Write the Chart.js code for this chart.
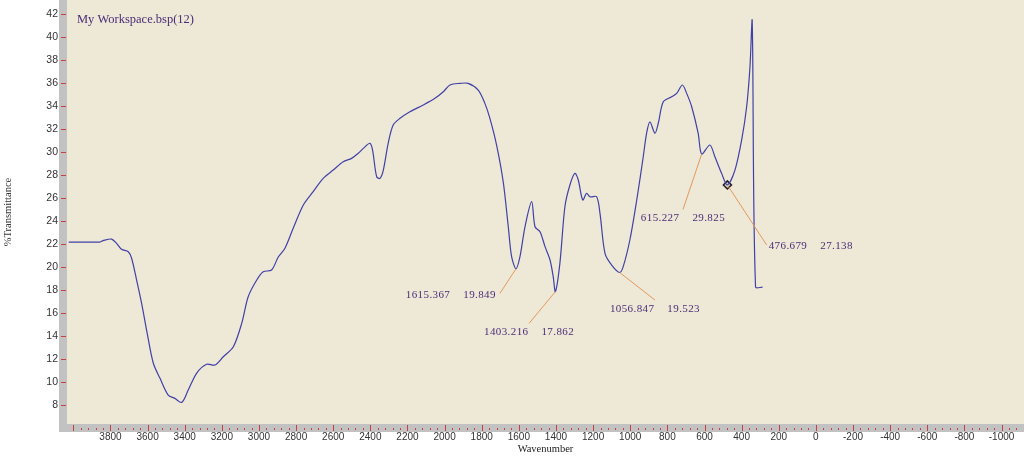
<!DOCTYPE html>
<html lang="en">
<head>
<meta charset="UTF-8">
<title>My Workspace.bsp(12)</title>
<script src="https://cdn.jsdelivr.net/npm/chart.js"></script>
<style>
  html, body { margin: 0; padding: 0; background: #fff; }
  #wrap { width: 1024px; height: 456px; }
</style>
</head>
<body>
<div id="wrap"><canvas id="irChart" width="1024" height="456"></canvas></div>
<script>
// spectrum: wavenumber (cm-1) and %T
const wavenumbers = [
  4025, 3857, 3840, 3794, 3767, 3740, 3704, 3686, 3659, 3632, 3602, 3569, 3533, 3489, 3453, 3416,
  3381, 3336, 3282, 3237, 3192, 3138, 3093, 3058, 3012, 2977, 2932, 2896, 2860, 2815, 2761, 2708,
  2654, 2600, 2546, 2501, 2465, 2438, 2402, 2388, 2366, 2348, 2330, 2304, 2277, 2240, 2187, 2115,
  2052, 2007, 1971, 1917, 1873, 1819, 1783, 1756, 1720, 1684, 1657, 1639, 1615.367, 1594, 1567, 1531,
  1513, 1486, 1459, 1432, 1415, 1403.216, 1379, 1352, 1325, 1298, 1280, 1256, 1235, 1217, 1181, 1163,
  1136, 1100, 1056.847, 1038, 1002, 965, 930, 912, 894, 867, 849, 822, 777, 750, 719, 696,
  669, 634, 615.227, 571, 544, 508, 476.679, 436, 400, 373, 355, 343, 325, 287
];
const transmittance = [
  22.17, 22.17, 22.29, 22.43, 22.06, 21.54, 21.33, 20.76, 18.87, 16.84, 14.23, 11.63, 10.32, 8.87, 8.58, 8.23,
  9.30, 10.76, 11.54, 11.48, 12.20, 13.07, 15.10, 17.42, 18.87, 19.59, 19.74, 20.87, 21.63, 23.39, 25.39, 26.55,
  27.71, 28.43, 29.16, 29.45, 29.89, 30.32, 30.76, 30.17, 27.85, 27.71, 28.43, 30.76, 32.35, 32.93, 33.50, 34.09,
  34.67, 35.24, 35.83, 35.97, 35.97, 35.39, 34.23, 32.93, 30.61, 27.39, 23.50, 20.90, 19.849, 20.90, 23.50, 25.68,
  23.50, 23.07, 21.77, 20.61, 19.16, 17.862, 20.32, 25.24, 27.13, 28.15, 27.57, 25.83, 26.41, 26.11, 26.11, 24.67,
  21.19, 20.17, 19.523, 20.03, 22.35, 25.83, 29.59, 31.63, 32.63, 31.63, 32.50, 34.37, 34.81, 35.10, 35.83, 35.10,
  33.94, 31.63, 29.825, 30.61, 29.59, 28.15, 27.138, 28.43, 31.04, 33.94, 37.42, 41.39, 18.26, 18.26
];

// axis labels
const xTicks = [3800, 3600, 3400, 3200, 3000, 2800, 2600, 2400, 2200, 2000, 1800, 1600, 1400, 1200,
  1000, 800, 600, 400, 200, 0, -200, -400, -600, -800, -1000];
const yTicks = [8, 10, 12, 14, 16, 18, 20, 22, 24, 26, 28, 30, 32, 34, 36, 38, 40, 42];

// labelled peaks and where their leader lines end
const peakWavenumbers = [1615.367, 1403.216, 1056.847, 615.227, 476.679];
const peakValues = [19.849, 17.862, 19.523, 29.825, 27.138];
const labelWavenumbers = [1702, 1545, 867, 716, 265];
const labelValues = [17.71, 15.10, 17.13, 25.0, 21.91];
const labelAlign = ['right', 'center', 'center', 'center', 'left'];

// cursor marker
const markerWavenumbers = [476.679];
const markerValues = [27.138];

const spectrum = wavenumbers.map((w, i) => ({ x: w, y: transmittance[i] }));
const marker = markerWavenumbers.map((w, i) => ({ x: w, y: markerValues[i] }));

// background, grey frame and red tick marks
const frame = {
  id: 'frame',
  beforeDraw(chart) {
    const { ctx, chartArea: a, width, height } = chart;
    const xs = chart.scales.x, ys = chart.scales.y;
    ctx.save();
    ctx.fillStyle = '#fff';
    ctx.fillRect(0, 0, width, height);
    ctx.fillStyle = '#EEE8D6';
    ctx.fillRect(a.left, a.top, a.right - a.left, a.bottom - a.top);
    ctx.fillStyle = '#C2C2C2';
    ctx.fillRect(a.left - 8, a.top, 8, a.bottom - a.top + 8);
    ctx.fillRect(a.left - 8, a.bottom, a.right - a.left + 8, 8);

    ctx.strokeStyle = '#C84040';
    ctx.lineWidth = 1;
    ctx.beginPath();
    yTicks.forEach(v => {
      const p = Math.round(ys.getPixelForValue(v)) + 0.5;
      ctx.moveTo(a.left - 6, p);
      ctx.lineTo(a.left - 1, p);
    });
    ctx.stroke();

    ctx.beginPath();
    for (let v = 4000; v >= xs.min; v -= 40) {
      const p = Math.round(xs.getPixelForValue(v)) + 0.5;
      if (v % 200 === 0) {
        ctx.moveTo(p, a.bottom + 1);
        ctx.lineTo(p, a.bottom + 7);
      } else {
        ctx.moveTo(p, a.bottom + 4);
        ctx.lineTo(p, a.bottom + 6);
      }
    }
    ctx.stroke();
    ctx.restore();
  },
  afterDraw(chart) {
    const { ctx, chartArea: a } = chart;
    ctx.save();
    ctx.fillStyle = '#4B2D78';
    ctx.font = '12.5px "Liberation Serif"';
    ctx.textBaseline = 'middle';
    ctx.fillText('My Workspace.bsp(12)', a.left + 10, a.top + 20);
    ctx.restore();
  }
};

// leader lines and peak labels
const callouts = {
  id: 'callouts',
  afterDatasetsDraw(chart) {
    const { ctx } = chart;
    const xs = chart.scales.x, ys = chart.scales.y;
    ctx.save();
    ctx.font = '11px "Liberation Serif"';
    if ('letterSpacing' in ctx) ctx.letterSpacing = '0.4px';
    ctx.textBaseline = 'middle';
    peakWavenumbers.forEach((w, i) => {
      const px = xs.getPixelForValue(w), py = ys.getPixelForValue(peakValues[i]);
      const lx = xs.getPixelForValue(labelWavenumbers[i]), ly = ys.getPixelForValue(labelValues[i]);
      ctx.strokeStyle = '#E39A5A';
      ctx.lineWidth = 1;
      ctx.beginPath();
      ctx.moveTo(px, py);
      ctx.lineTo(lx, ly);
      ctx.stroke();

      const a = w.toFixed(3), b = peakValues[i].toFixed(3);
      const gap = 13;
      const wa = ctx.measureText(a).width, wb = ctx.measureText(b).width;
      const total = wa + gap + wb;
      let tx, ty;
      if (labelAlign[i] === 'right') { tx = lx - 4 - total; ty = ly + 2; }
      else if (labelAlign[i] === 'left') { tx = lx + 2; ty = ly + 1; }
      else { tx = lx - total / 2; ty = ly + 9; }
      ctx.fillStyle = '#4B2D78';
      ctx.fillText(a, tx, ty);
      ctx.fillText(b, tx + wa + gap, ty);
    });
    ctx.restore();
  }
};

const ctx = document.getElementById('irChart').getContext('2d');
new Chart(ctx, {
  type: 'line',
  data: {
    datasets: [{
      data: spectrum,
      borderColor: '#4040A8',
      borderWidth: 1.2,
      pointRadius: 0,
      tension: 0.3,
      fill: false
    }, {
      type: 'scatter',
      data: marker,
      pointStyle: 'rectRot',
      pointRadius: 4,
      borderColor: '#222',
      backgroundColor: '#CFCFCF',
      borderWidth: 1.6
    }]
  },
  options: {
    responsive: false,
    animation: false,
    layout: { padding: 0, autoPadding: false },
    plugins: { legend: { display: false }, tooltip: { enabled: false } },
    scales: {
      x: {
        type: 'linear',
        reverse: true,
        min: -1121,
        max: 4034,
        grid: { display: false, drawTicks: false },
        border: { display: false },
        afterBuildTicks: s => { s.ticks = xTicks.map(v => ({ value: v })); },
        afterFit: s => { s.height = 32; s.paddingLeft = 0; s.paddingRight = 0; },
        ticks: {
          padding: 7,
          maxRotation: 0,
          autoSkip: false,
          color: '#333',
          callback: v => String(v),
          font: { family: '"Liberation Sans"', size: 10 }
        },
        title: {
          display: true,
          text: 'Wavenumber',
          color: '#222',
          padding: { top: 0, bottom: 0 },
          font: { family: '"Liberation Serif"', size: 10.5 }
        }
      },
      y: {
        min: 6.35,
        max: 43.22,
        grid: { display: false, drawTicks: false },
        border: { display: false },
        afterBuildTicks: s => { s.ticks = yTicks.map(v => ({ value: v })); },
        afterFit: s => { s.width = 67; s.paddingTop = 0; s.paddingBottom = 0; },
        ticks: {
          padding: 9,
          autoSkip: false,
          color: '#333',
          callback: v => String(v),
          font: { family: '"Liberation Sans"', size: 10.5 }
        },
        title: {
          display: true,
          text: '%Transmittance',
          color: '#333',
          padding: { top: 2, bottom: 0 },
          font: { family: '"Liberation Serif"', size: 10.5 }
        }
      }
    }
  },
  plugins: [frame, callouts]
});
</script>
</body>
</html>
